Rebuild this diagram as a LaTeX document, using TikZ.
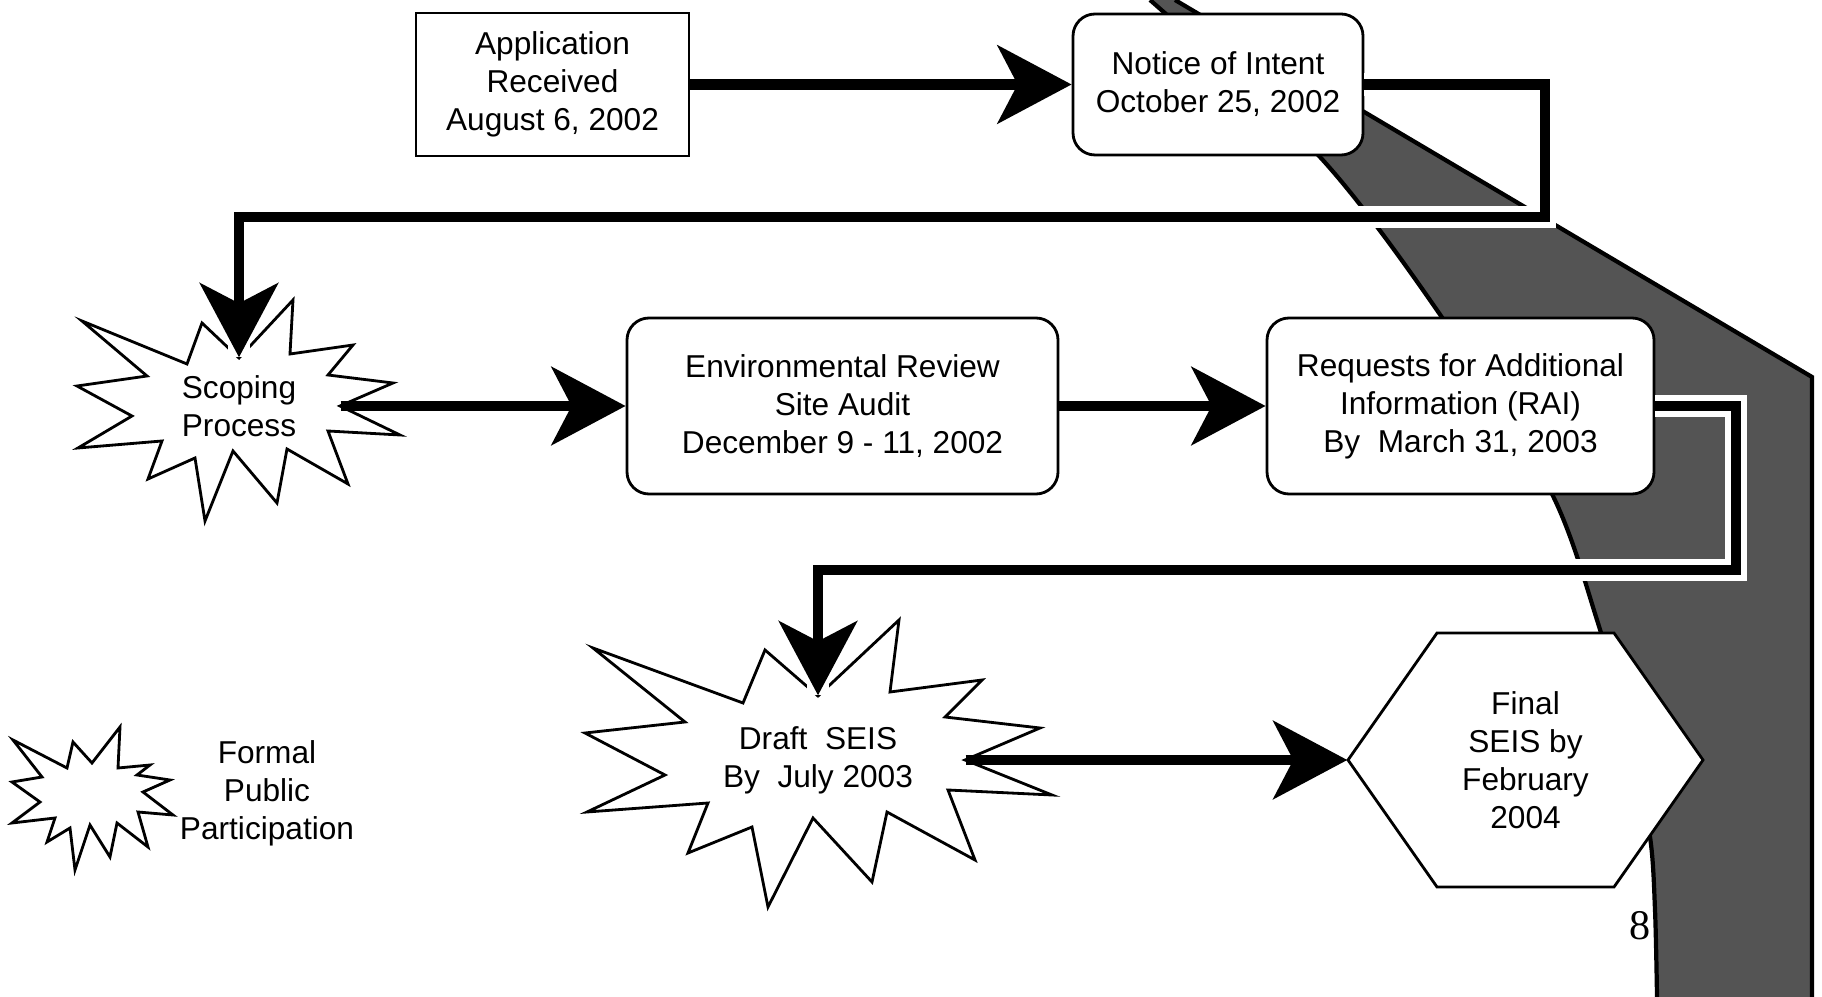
\documentclass[tikz,border=0pt]{standalone}
\usepackage{fontspec}
\setmainfont{Liberation Sans}
\newfontfamily\pagefont{Liberation Serif}
\usetikzlibrary{arrows.meta}

\begin{document}
\begin{tikzpicture}[
  font=\fontsize{9}{10.8}\selectfont,
  box/.style={draw, line width=0.8pt, fill=white, align=center, inner sep=0pt},
  roundbox/.style={box, rounded corners=2.2mm},
  burst/.style={draw, line width=0.8pt, fill=white, line join=miter},
  txt/.style={align=center, inner sep=0pt},
  link/.style={line width=3pt, -{Stealth[length=7.4mm,width=7.8mm,inset=2mm]}},
  halo/.style={preaction={draw=white, line width=6.5pt, -}},
  band/.style={fill=black!67},
  bandedge/.style={line width=1.2pt}
]
\useasboundingbox (0,0) rectangle (18.22,-9.97);
% shaded band on the right
\fill[band] plot[smooth] coordinates {(11.50,0) (13.20,-1.57) (14.41,-3.16) (15.50,-4.90) (15.97,-6.20) (16.30,-7.40) (16.50,-8.37) (16.55,-9.10) (16.57,-9.97)}
  -- (18.12,-9.97) -- (18.12,-3.77) -- (11.75,0) -- cycle;
\draw[bandedge] plot[smooth] coordinates {(11.50,0) (13.20,-1.57) (14.41,-3.16) (15.50,-4.90) (15.97,-6.20) (16.30,-7.40) (16.50,-8.37) (16.55,-9.10) (16.57,-9.97)};
\draw[bandedge] (11.75,0) -- (18.12,-3.77) -- (18.12,-9.97);

% boxes
\node[box, minimum width=2.73cm, minimum height=1.43cm] (app) at (5.525,-0.845) {Application\\Received\\August 6, 2002};
\node[roundbox, minimum width=2.90cm, minimum height=1.41cm] (noi) at (12.18,-0.845) {Notice of Intent\\October 25, 2002};
\node[roundbox, minimum width=4.31cm, minimum height=1.76cm] (env) at (8.425,-4.06) {Environmental Review\\Site Audit\\December 9 - 11, 2002};
\node[roundbox, minimum width=3.87cm, minimum height=1.76cm] (rai) at (14.605,-4.06) {Requests for Additional\\Information (RAI)\\By\ \ March 31, 2003};

% bursts
\draw[burst, shift={(2.39,-4.06)}] (0,0.48) -- (0.54,1.06) -- (0.51,0.52) -- (1.14,0.61) -- (0.89,0.31) -- (1.54,0.23) -- (1.01,0) -- (1.61,-0.29) -- (0.89,-0.25) -- (1.09,-0.78) -- (0.48,-0.43) -- (0.38,-0.97) -- (-0.06,-0.45) -- (-0.34,-1.15) -- (-0.44,-0.52) -- (-0.91,-0.73) -- (-0.77,-0.35) -- (-1.61,-0.42) -- (-1.07,-0.10) -- (-1.62,0.20) -- (-0.92,0.30) -- (-1.57,0.85) -- (-0.52,0.42) -- (-0.37,0.83) -- cycle;
\node[txt, minimum width=2.02cm, minimum height=0.96cm] (scope) at (2.39,-4.06) {Scoping\\Process};

\draw[burst, shift={(8.18,-7.60)}] (0,0.64) -- (0.81,1.40) -- (0.72,0.68) -- (1.64,0.80) -- (1.27,0.43) -- (2.22,0.32) -- (1.47,0) -- (2.34,-0.35) -- (1.30,-0.30) -- (1.57,-1.00) -- (0.69,-0.52) -- (0.54,-1.22) -- (-0.05,-0.58) -- (-0.50,-1.47) -- (-0.66,-0.67) -- (-1.30,-0.93) -- (-1.10,-0.43) -- (-2.31,-0.52) -- (-1.53,-0.15) -- (-2.33,0.27) -- (-1.33,0.38) -- (-2.25,1.12) -- (-0.75,0.57) -- (-0.53,1.10) -- cycle;
\node[txt, minimum width=2.94cm, minimum height=1.28cm] (draft) at (8.18,-7.60) {Draft\ \ SEIS\\By\ \ July 2003};

\draw[burst, shift={(15.255,-7.60)}] (-1.775,0) -- (-0.885,1.27) -- (0.885,1.27) -- (1.775,0) -- (0.885,-1.27) -- (-0.885,-1.27) -- cycle;
\node[txt, minimum width=3.55cm, minimum height=2.54cm] (fin) at (15.255,-7.60) {Final\\SEIS by\\February\\2004};

% legend
\draw[burst, shift={(0.92,-7.98)}] (0.28,0.71) -- (0.26,0.30) -- (0.58,0.33) -- (0.45,0.23) -- (0.78,0.18) -- (0.51,0.06) -- (0.81,-0.17) -- (0.46,-0.14) -- (0.56,-0.49) -- (0.25,-0.25) -- (0.18,-0.59) -- (-0.02,-0.27) -- (-0.17,-0.72) -- (-0.22,-0.30) -- (-0.45,-0.44) -- (-0.37,-0.20) -- (-0.80,-0.25) -- (-0.52,-0.04) -- (-0.80,0.16) -- (-0.50,0.21) -- (-0.79,0.58) -- (-0.25,0.30) -- (-0.19,0.56) -- (0,0.35) -- cycle;
\node[txt] (legend) at (2.67,-7.93) {Formal\\Public\\Participation};

\node[font=\pagefont\fontsize{12}{14}\selectfont, inner sep=0pt] (pagenum) at (16.40,-9.26) {8};

% connectors
\coordinate (bendA) at (15.45,-2.17);
\coordinate (bendB) at (17.36,-5.70);
\draw[link] (app) -- (noi);
\draw[link, halo] (noi) -| (bendA) -| (scope.north);
\draw[link] (scope.east) -- (env);
\draw[link] (env) -- (rai);
\draw[link, halo] (rai) -| (bendB) -| (draft.north);
\draw[link] (draft.east) -- (fin.west);
\end{tikzpicture}
\end{document}
